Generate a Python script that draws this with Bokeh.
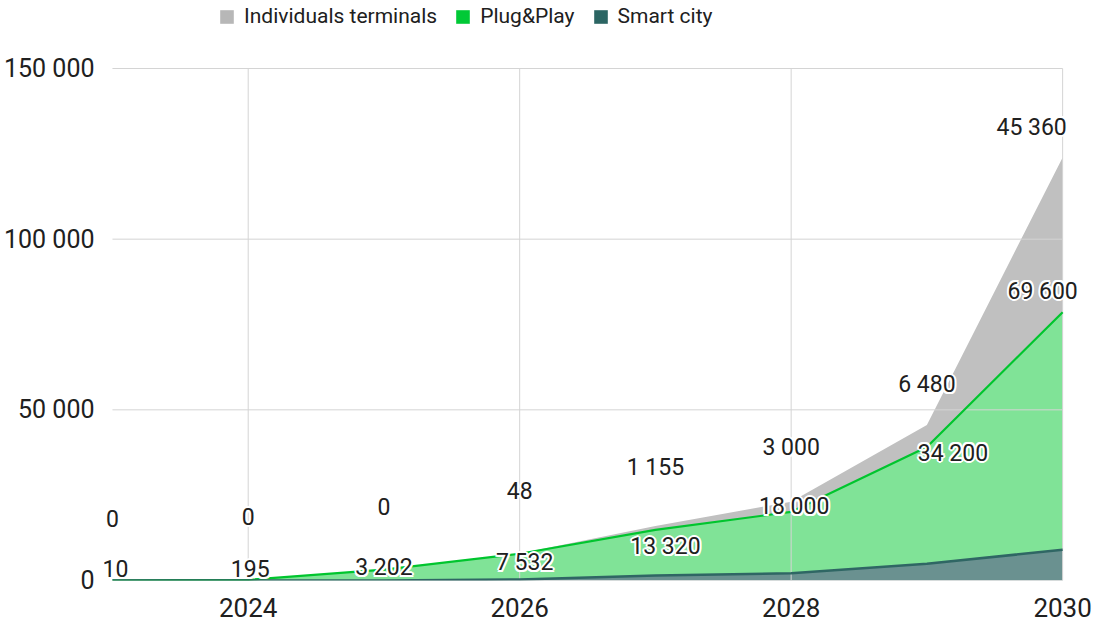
from bokeh.plotting import figure
from bokeh.models import (ColumnDataSource, FixedTicker, CustomJSTickFormatter,
                          Legend, LegendItem, LabelSet)
from bokeh.core.properties import value
from bokeh.embed import file_html
from bokeh.resources import INLINE

# ---------------- data ----------------
years = [2023, 2024, 2025, 2026, 2027, 2028, 2029, 2030]
smart_city = [0, 0, 0, 300, 1500, 2100, 4900, 9000]
plug_play = [10, 195, 3202, 7532, 13320, 18000, 34200, 69600]
individuals = [0, 0, 0, 48, 1155, 3000, 6480, 45360]
series_names = ["Individuals terminals", "Plug&Play", "Smart city"]
y_ticks = [0, 50000, 100000, 150000]
x_ticks = [2024, 2026, 2028, 2030]

# label nudges in screen pixels (style only; negative = up)
plug_dx = [3, 2, 0, 5, 10, 3, 26, -20]
plug_dy = [-12, -11, -2, 9, 17, -5, 6, -21]
ind_dx = [0, 0, 0, 0, 0, 0, 0, -31]
ind_dy = [-62, -63, -63, -63, -58, -54, -40, -30]

# ---------------- layout ----------------
W, H = 1096, 628
FR_L, FR_R, FR_B = 99, 1094, 580          # frame edges (px); frame runs to the top
X0_PX, X1_PX = 108, 1062                  # where first/last year sit
Y0_PX, Y1_PX = 580, 68                    # where 0 and the top tick sit
ppy = (X1_PX - X0_PX) / (years[-1] - years[0])
x_start = years[0] - (X0_PX - FR_L) / ppy
x_end = years[-1] + (FR_R - X1_PX) / ppy
ppv = (Y0_PX - Y1_PX) / y_ticks[-1]
y_end = y_ticks[-1] + Y1_PX / ppv

# ---------------- styles ----------------
FONT = "Roboto"
TXT = "#202020"
legend_colors = ["#b7b7b7", "#00c936", "#2b6563"]
fill_colors = ["#c0c0c0", "#80e397", "#6a9190"]
GRID = "#d4d4d4"

def fmt(v):
    return f"{v:,}".replace(",", " ")

smart_top = list(smart_city)
plug_top = [s + p for s, p in zip(smart_city, plug_play)]
total_top = [pt + i for pt, i in zip(plug_top, individuals)]

src = ColumnDataSource(dict(x=years, zero=[0] * len(years), smart=smart_top,
                            plug=plug_top, total=total_top))

p = figure(width=W, height=H, x_range=(x_start, x_end), y_range=(0, y_end),
           output_backend="svg", toolbar_location=None,
           min_border_left=FR_L, min_border_right=W - FR_R, min_border_top=0,
           min_border_bottom=H - FR_B)
p.outline_line_color = None
p.background_fill_color = "white"
p.xgrid.visible = False
p.ygrid.visible = False

# areas
p.varea(x="x", y1="plug", y2="total", source=src, fill_color=fill_colors[0])
p.varea(x="x", y1="smart", y2="plug", source=src, fill_color=fill_colors[1])
p.varea(x="x", y1="zero", y2="smart", source=src, fill_color=fill_colors[2])

# gridlines (drawn over the areas, limited to the data extent)
p.segment(x0=[years[0]] * len(y_ticks), x1=[years[-1]] * len(y_ticks),
          y0=y_ticks, y1=y_ticks, line_color=GRID, line_width=1)
p.segment(x0=x_ticks, x1=x_ticks, y0=[y_ticks[0]] * len(x_ticks),
          y1=[y_ticks[-1]] * len(x_ticks), line_color=GRID, line_width=1)

p.line(x="x", y="plug", source=src, line_color="#00c52e", line_width=2.2)
p.line(x="x", y="smart", source=src, line_color="#2f6664", line_width=2.5)

# axes
p.xaxis.ticker = FixedTicker(ticks=x_ticks)
p.yaxis.ticker = FixedTicker(ticks=y_ticks)
p.yaxis.formatter = CustomJSTickFormatter(
    code=r"return tick.toString().replace(/\B(?=(\d{3})+(?!\d))/g, ' ');")
for ax in (p.xaxis[0], p.yaxis[0]):
    ax.axis_line_color = None
    ax.major_tick_line_color = None
    ax.minor_tick_line_color = None
    ax.major_label_text_font = FONT
    ax.major_label_text_color = TXT
p.xaxis.major_label_text_font_size = "26px"
p.yaxis.major_label_text_font_size = "25px"
p.xaxis.major_label_standoff = 11
p.yaxis.major_label_standoff = 3

# data labels with white halo
halo = [(-2, 0), (2, 0), (0, -2), (0, 2), (-1.5, -1.5), (1.5, -1.5), (-1.5, 1.5), (1.5, 1.5)]

def add_labels(ys, vals, dxs, dys):
    passes = [(hx, hy, "white") for hx, hy in halo] + [(0, 0, TXT)]
    for ox, oy, col in passes:
        s = ColumnDataSource(dict(x=years, y=ys, t=[fmt(v) for v in vals],
                                  dx=[d + ox for d in dxs], dy=[-(d + oy) for d in dys]))
        ls = LabelSet(x="x", y="y", text="t", source=s, x_offset="dx", y_offset="dy",
                      text_align="center", text_baseline="middle",
                      text_font=value(FONT), text_font_size=value("23px"),
                      text_color=col)
        p.add_layout(ls)

add_labels(plug_top, plug_play, plug_dx, plug_dy)
add_labels(total_top, individuals, ind_dx, ind_dy)

# legend (inside the tall frame, at the top); zero-height proxy areas carry the swatch colours
items = []
for name, col in zip(series_names, legend_colors):
    r = p.varea(x="x", y1="zero", y2="zero", source=src, fill_color=col)
    items.append(LegendItem(label=name, renderers=[r]))
legend = Legend(items=items, location=(214 - FR_L, FR_B - 28), orientation="horizontal",
                glyph_width=17, glyph_height=17, label_standoff=9, spacing=17,
                padding=0, margin=0, border_line_alpha=0, background_fill_alpha=0,
                label_text_font=FONT, label_text_font_size="21px",
                label_text_color=TXT)
p.add_layout(legend)

open("out.html", "w").write(file_html(p, INLINE))
